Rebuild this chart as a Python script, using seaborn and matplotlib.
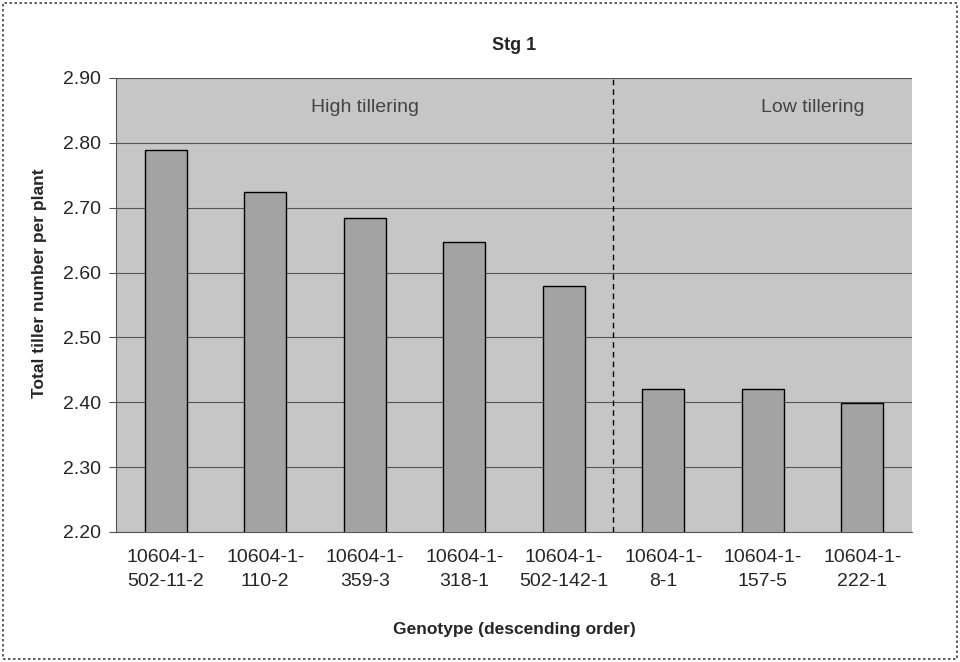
import matplotlib
matplotlib.use("Agg")
import matplotlib.pyplot as plt
from matplotlib.patches import Rectangle
import seaborn as sns
import numpy as np
import pandas as pd

genotypes = ["10604-1-\n502-11-2", "10604-1-\n110-2", "10604-1-\n359-3", "10604-1-\n318-1",
             "10604-1-\n502-142-1", "10604-1-\n8-1", "10604-1-\n157-5", "10604-1-\n222-1"]
tillers = [2.789, 2.724, 2.684, 2.647, 2.579, 2.421, 2.421, 2.399]
group_labels = ["High tillering", "Low tillering"]
y_ticks = [2.20, 2.30, 2.40, 2.50, 2.60, 2.70, 2.80, 2.90]

df = pd.DataFrame({"genotype": genotypes, "tillers": tillers})

sns.set_style("white")
plt.rcParams['font.family'] = ['Liberation Sans', 'DejaVu Sans']

fig = plt.figure(figsize=(9.6, 6.62), dpi=100)
ax = fig.add_axes([0.1208, 0.1964, 0.8292, 0.6858])
ax.set_facecolor("#c6c6c6")

sns.barplot(data=df, x="genotype", y="tillers", color="#a3a3a3", width=0.42,
            edgecolor="black", linewidth=1.0, saturation=1, ax=ax, zorder=3)

ax.set_ylim(2.20, 2.90)
ax.set_xlim(-0.5, len(genotypes) - 0.5)
ax.set_yticks(y_ticks)
ax.set_yticklabels(["%.2f" % v for v in y_ticks], fontsize=14)
ax.yaxis.grid(True, color="#555555", linewidth=0.8, zorder=1)
ax.set_axisbelow(True)

# x ticks sit between categories, labels centred under bars
ax.set_xticks(np.arange(len(genotypes)))
ax.set_xticklabels(genotypes, fontsize=14, linespacing=1.55)
ax.set_xticks(np.arange(len(genotypes) + 1) - 0.5, minor=True)
ax.tick_params(axis="x", which="major", length=0, pad=12)
ax.tick_params(axis="x", which="minor", length=5, direction="out", color="#555555")
ax.tick_params(axis="y", length=5, direction="out", color="#555555", pad=6)
ax.tick_params(axis="both", bottom=True, left=True)

for side in ["top", "right"]:
    ax.spines[side].set_visible(False)
for side in ["left", "bottom"]:
    ax.spines[side].set_color("#555555")
    ax.spines[side].set_linewidth(0.8)

ax.axvline(4.5, color="black", linestyle=(0, (4, 3)), linewidth=1.0, zorder=4)
ax.text(2.0, 2.855, group_labels[0], ha="center", va="center", fontsize=14, color="#444444")
ax.text(6.5, 2.855, group_labels[1], ha="center", va="center", fontsize=14, color="#444444")

ax.set_title("Stg 1", fontsize=13, fontweight="bold", pad=20)
ax.set_xlabel("Genotype (descending order)", fontsize=12.5, fontweight="bold", labelpad=23)
ax.set_ylabel("Total tiller number per plant", fontsize=12.5, fontweight="bold")
ax.yaxis.set_label_coords(-0.087, 0.548)

fig.patches.append(Rectangle((0.003, 0.004), 0.994, 0.992, transform=fig.transFigure,
                             fill=False, edgecolor="#444444", linestyle=(0, (1.5, 1.5)),
                             linewidth=1.2))

fig.savefig("out.png", dpi=100)
